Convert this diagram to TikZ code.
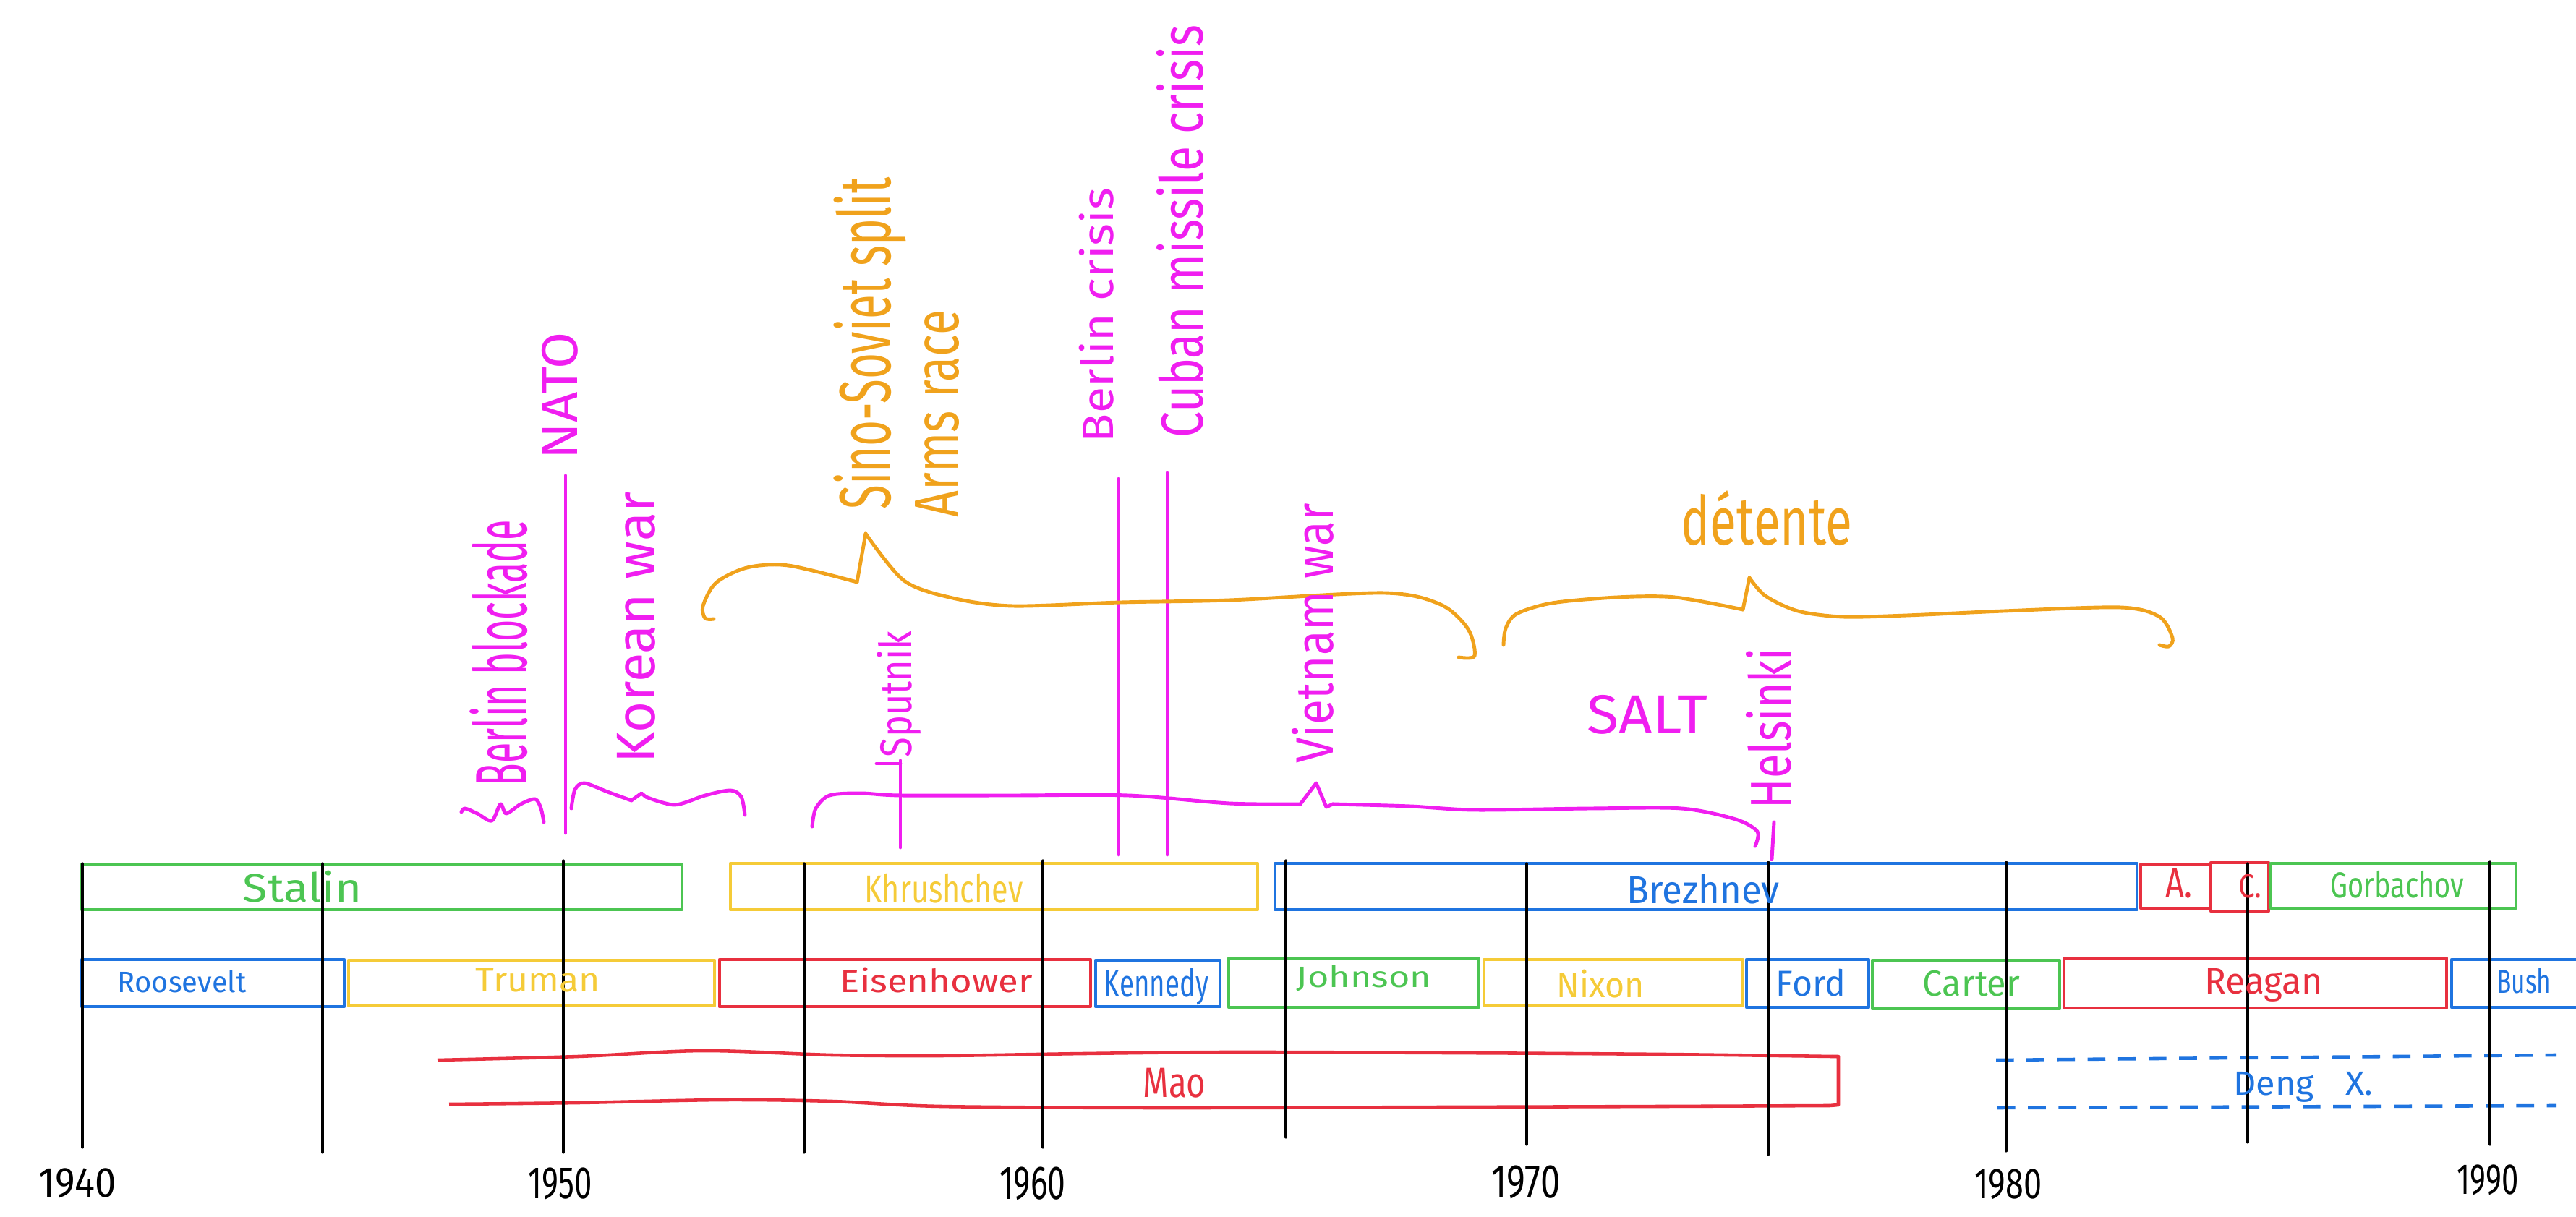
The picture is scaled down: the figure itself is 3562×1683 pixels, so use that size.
\documentclass[tikz,border=0pt]{standalone}
\usepackage{fontspec}
\setmainfont{Fira Sans}
\usepackage{graphicx}
\newlength\hwunit
\setlength\hwunit{0.1mm}
\newcommand\fitt[3]{\resizebox*{#1\hwunit}{#2\hwunit}{#3}}
\definecolor{cgreen}{RGB}{76,197,82}
\definecolor{cyellow}{RGB}{245,203,56}
\definecolor{cblue}{RGB}{31,116,224}
\definecolor{cred}{RGB}{232,48,63}
\definecolor{cmag}{RGB}{240,30,240}
\definecolor{corange}{RGB}{240,162,28}
\begin{document}
\begin{tikzpicture}[x=0.01cm,y=-0.01cm,
  box/.style={line width=1.3pt, line join=round},
  yr/.style={line width=0.9pt, black, line cap=round},
  pen/.style={line width=1.4pt, line cap=round, line join=round},
  hw/.style={inner sep=0pt, outer sep=0pt},
  vt/.style={hw, rotate=90}]
\useasboundingbox (0,0) rectangle (3562,1683);

% ---------- row 1: Soviet leaders ----------
\draw[box,cgreen]  (113,1195) rectangle (943,1258);
\draw[box,cyellow] (1010,1194) rectangle (1739,1258);
\draw[box,cblue]   (1763,1194) rectangle (2955,1258);
\draw[box,cred]    (2960,1195) rectangle (3056,1256);
\draw[box,cred]    (3057,1193) rectangle (3137,1260);
\draw[box,cgreen]  (3140,1194) rectangle (3479,1256);

% ---------- row 2: US presidents ----------
\draw[box,cblue]   (113,1327) rectangle (476,1392);
\draw[box,cyellow] (482,1328) rectangle (988,1391);
\draw[box,cred]    (995,1327) rectangle (1508,1392);
\draw[box,cblue]   (1515,1328) rectangle (1687,1392);
\draw[box,cgreen]  (1699,1325) rectangle (2045,1393);
\draw[box,cyellow] (2052,1327) rectangle (2410,1391);
\draw[box,cblue]   (2415,1327) rectangle (2584,1393);
\draw[box,cgreen]  (2589,1328) rectangle (2848,1395);
\draw[box,cred]    (2854,1325) rectangle (3383,1394);
\draw[box,cblue]   (3562,1327) -- (3390,1327) -- (3390,1393) -- (3562,1393);

% ---------- row 3: China ----------
\draw[box,cred] plot[smooth] coordinates {(605,1466) (800,1461) (972,1453) (1150,1459) (1300,1460) (1500,1457) (1700,1455) (2000,1456) (2300,1458) (2533,1461)};
\draw[box,cred] (2533,1461) -- (2542,1461) -- (2542,1528) -- (2530,1529);
\draw[box,cred] plot[smooth] coordinates {(621,1527) (800,1525) (1000,1521) (1150,1523) (1300,1530) (1600,1532) (2000,1531) (2300,1530) (2530,1529)};
\draw[box,cblue,dash pattern=on 7pt off 5pt] (2760,1466) -- (3535,1459);
\draw[box,cblue,dash pattern=on 7pt off 5pt] (2762,1532) -- (3535,1529);

% ---------- year lines ----------
\foreach \x/\a/\b in {114/1194/1587, 446/1194/1594, 779/1190/1594, 1112/1194/1594,
  1442/1190/1587, 1778/1190/1573, 2111/1194/1583, 2445/1192/1597,
  2774/1192/1592, 3108/1194/1580, 3443/1191/1583}
  \draw[yr] (\x,\a) -- (\x,\b);

% ---------- magenta events ----------
\draw[pen,cmag] plot[smooth] coordinates {(638,1123) (643,1118) (660,1125) (680,1135) (692,1112) (700,1125) (720,1112) (740,1105) (748,1118) (752,1137)};
\draw[pen,cmag] (782,658) -- (782,1152);
\draw[pen,cmag] plot[smooth] coordinates {(790,1118) (795,1092) (808,1083) (840,1095) (873,1107)};
\draw[pen,cmag] (873,1107) -- (887,1097) -- (893,1102);
\draw[pen,cmag] plot[smooth] coordinates {(893,1102) (933,1113) (975,1100) (1010,1093) (1025,1102) (1030,1127)};
\draw[pen,cmag] (1547,662) -- (1547,1182);
\draw[pen,cmag] (1614,654) -- (1614,1182);
\draw[pen,cmag] (1245,1052) -- (1245,1172);
\draw[pen,cmag] (1212,1056) -- (1245,1056);
\draw[pen,cmag] plot[smooth] coordinates {(1123,1143) (1128,1118) (1147,1100) (1190,1097) (1245,1100) (1400,1100) (1560,1100) (1700,1111) (1798,1112)};
\draw[pen,cmag] (1798,1112) -- (1820,1083) -- (1834,1116) -- (1843,1112);
\draw[pen,cmag] plot[smooth] coordinates {(1843,1112) (1950,1115) (2039,1120) (2200,1118) (2325,1118) (2400,1133) (2430,1150) (2427,1170)};
\draw[pen,cmag] (2453,1137) -- (2450,1188);

% ---------- orange braces ----------
\draw[pen,corange] plot[smooth] coordinates {(987,856) (975,855) (972,838) (990,806) (1033,785) (1090,782) (1185,805)};
\draw[pen,corange] (1185,805) -- (1197,738);
\draw[pen,corange] plot[smooth] coordinates {(1197,738) (1250,803) (1317,827) (1400,838) (1550,833) (1700,830) (1914,820) (1992,836) (2030,870) (2039,907) (2017,909)};
\draw[pen,corange] plot[smooth] coordinates {(2079,892) (2082,869) (2097,849) (2146,834) (2236,826) (2316,826) (2410,843)};
\draw[pen,corange] (2410,843) -- (2419,799);
\draw[pen,corange] plot[smooth] coordinates {(2419,799) (2441,824) (2486,845) (2548,853) (2637,851) (2771,845) (2932,840) (2986,853) (3004,882) (2999,894) (2986,892)};

% ---------- labels: row 1 ----------
\node[hw,text=cgreen]  (stalin) at (418,1226)  {\fitt{164}{44}{Stalin}};
\node[hw,text=cyellow] (khrushchev) at (1305,1229) {\fitt{219}{41}{Khrushchev}};
\node[hw,text=cblue]   (brezhnev) at (2355,1230) {\fitt{211}{41}{Brezhnev}};
\node[hw,text=cred]    (andropov) at (3013,1222) {\fitt{37}{41}{A.}};
\node[hw,text=cred]    (chernenko) at (3111,1226) {\fitt{32}{33}{C.}};
\node[hw,text=cgreen]  (gorbachov) at (3315,1223) {\fitt{185}{38}{Gorbachov}};

% ---------- labels: row 2 ----------
\node[hw,text=cblue]   (roosevelt) at (252,1357) {\fitt{178}{31}{Roosevelt}};
\node[hw,text=cyellow] (truman) at (744,1356) {\fitt{172}{33}{Truman}};
\node[hw,text=cred]    (eisenhower) at (1295,1356) {\fitt{266}{35}{Eisenhower}};
\node[hw,text=cblue]   (kennedy) at (1599,1364) {\fitt{144}{51}{Kennedy}};
\node[hw,text=cgreen]  (johnson) at (1886,1353) {\fitt{186}{36}{Johnson}};
\node[hw,text=cyellow] (nixon) at (2213,1361) {\fitt{121}{39}{Nixon}};
\node[hw,text=cblue]   (ford) at (2504,1359) {\fitt{96}{38}{Ford}};
\node[hw,text=cgreen]  (carter) at (2726,1360) {\fitt{134}{36}{Carter}};
\node[hw,text=cred]    (reagan) at (3130,1362) {\fitt{163}{46}{Reagan}};
\node[hw,text=cblue]   (bush) at (3490,1357) {\fitt{75}{35}{Bush}};

% ---------- labels: row 3 ----------
\node[hw,text=cred]  (mao) at (1624,1498) {\fitt{87}{41}{Mao}};
\node[hw,text=cblue] (deng) at (3185,1503) {\fitt{193}{42}{Deng\hspace{0.9em}X.}};

% ---------- years ----------
\node[hw] (y1940) at (107,1636) {\fitt{107}{41}{1940}};
\node[hw] (y1950) at (775,1637) {\fitt{88}{44}{1950}};
\node[hw] (y1960) at (1428,1637) {\fitt{91}{46}{1960}};
\node[hw] (y1970) at (2110,1635) {\fitt{95}{46}{1970}};
\node[hw] (y1980) at (2777,1638) {\fitt{93}{42}{1980}};
\node[hw] (y1990) at (3440,1632) {\fitt{85}{42}{1990}};

% ---------- event labels ----------
\node[vt,text=cmag] (berlinb) at (690,903) {\fitt{368}{80}{Berlin blockade}};
\node[vt,text=cmag] (nato) at (774,547) {\fitt{176}{50}{NATO}};
\node[vt,text=cmag] (korea) at (880,868) {\fitt{375}{53}{Korean war}};
\node[vt,text=corange] (sino) at (1203,475) {\fitt{459}{100}{Sino-Soviet split}};
\node[vt,text=corange] (arms) at (1296,572) {\fitt{287}{61}{Arms race}};
\node[vt,text=cmag] (berlinc) at (1516,436) {\fitt{352}{48}{Berlin crisis}};
\node[vt,text=cmag] (cuba) at (1632,320) {\fitt{571}{65}{Cuban missile crisis}};
\node[vt,text=cmag] (sputnik) at (1243,960) {\fitt{175}{61}{Sputnik}};
\node[vt,text=cmag] (vietnam) at (1815,876) {\fitt{359}{58}{Vietnam war}};
\node[vt,text=cmag] (helsinki) at (2446,1007) {\fitt{222}{63}{Helsinki}};
\node[hw,text=cmag] (salt) at (2278,988) {\fitt{166}{54}{SALT}};
\node[hw,text=corange] (detente) at (2443,717) {\fitt{237}{76}{détente}};
\end{tikzpicture}
\end{document}
